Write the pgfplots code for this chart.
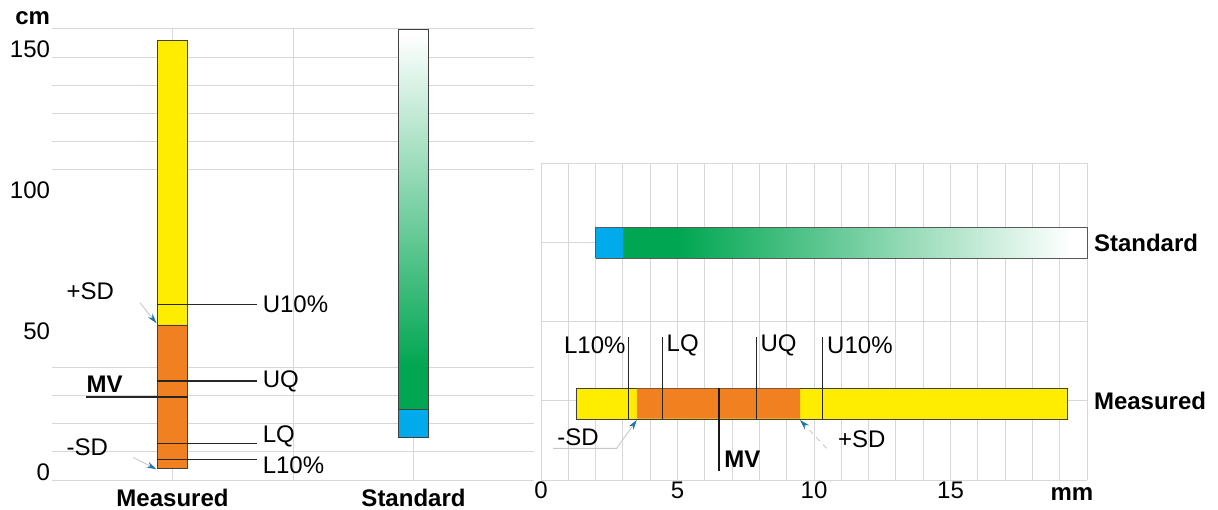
\documentclass[border=0pt]{standalone}
\usepackage{pgfplots}
\pgfplotsset{compat=1.18}
\usepackage{fontspec}
\setmainfont{Liberation Sans}
\usetikzlibrary{arrows.meta}
\definecolor{myyellow}{RGB}{255,237,0}
\definecolor{myorange}{RGB}{241,128,33}
\definecolor{myblue}{RGB}{0,170,235}
\definecolor{mygreen}{RGB}{0,166,81}
\definecolor{gridgray}{RGB}{215,215,215}
\definecolor{arrowblue}{RGB}{30,115,175}
\newcommand\fa{\fontsize{14.4}{17}\selectfont}
\begin{document}
\begin{tikzpicture}
\useasboundingbox (0,0) rectangle (730.8pt,305.4pt);
% ---------------- left panel (cm) ----------------
\begin{axis}[
  at={(31.2pt,17.4pt)}, anchor=south west, scale only axis,
  width=289.2pt, height=270.6pt,
  xmin=-1, xmax=3, ymin=0, ymax=160,
  axis line style={draw=none},
  xtick={0,1,2}, xticklabels={Measured,,Standard},
  xticklabel style={font=\fa\bfseries, inner sep=0pt, yshift=-5pt},
  ytick={0,10,20,30,40,110,120,130,140,150,160},
  yticklabels={0,,,,,,,,,150,},
  extra y ticks={50,100}, extra y tick labels={50,100},
  extra y tick style={grid=none},
  yticklabel style={font=\fa, inner sep=1pt, yshift=4.8pt},
  ymajorgrids, xmajorgrids,
  grid style={gridgray, line width=0.6pt},
  major tick length=0pt,
  clip=false,
]
% Measured bar
\addplot[fill=myyellow, draw=black!75, line width=0.5pt] coordinates {(-0.125,55) (0.125,55) (0.125,156) (-0.125,156) (-0.125,55)};
\addplot[fill=myorange, draw=black!75, line width=0.5pt] coordinates {(-0.125,4) (0.125,4) (0.125,55) (-0.125,55) (-0.125,4)};
% Standard bar
\addplot[draw=none, fill=mygreen] coordinates {(1.875,25) (2.125,25) (2.125,40) (1.875,40) (1.875,25)};
\addplot[draw=none, top color=white, bottom color=mygreen] coordinates {(1.875,40) (2.125,40) (2.125,158) (1.875,158) (1.875,40)};
\addplot[draw=none, fill=white] coordinates {(1.875,158) (2.125,158) (2.125,160) (1.875,160) (1.875,158)};
\addplot[fill=myblue, draw=black!75, line width=0.5pt] coordinates {(1.875,15) (2.125,15) (2.125,25) (1.875,25) (1.875,15)};
\addplot[draw=black!75, line width=0.5pt] coordinates {(1.875,25) (1.875,160) (2.125,160) (2.125,25)};
% percentile lines
\addplot[black!85, line width=0.7pt] coordinates {(-0.125,62.3) (0.705,62.3)};
\addplot[black!85, line width=0.7pt] coordinates {(-0.125,35.1) (0.705,35.1)};
\addplot[black!85, line width=0.7pt] coordinates {(-0.125,13) (0.705,13)};
\addplot[black!85, line width=0.7pt] coordinates {(-0.125,7.3) (0.705,7.3)};
\addplot[black!85, line width=0.9pt] coordinates {(-0.714,29.5) (0.125,29.5)};
% SD arrows
\addplot[gray!45, line width=0.5pt, -{Stealth[length=6pt,width=3.5pt,color=arrowblue]}] coordinates {(-0.27,62.9) (-0.133,55.6)};
\addplot[gray!45, line width=0.5pt, -{Stealth[length=6pt,width=3.5pt,color=arrowblue]}] coordinates {(-0.326,8.0) (-0.133,3.8)};
% labels
\node[font=\fa, anchor=west, inner sep=3pt] at (axis cs:0.705,62.3) {U10\%};
\node[font=\fa, anchor=west, inner sep=3pt] at (axis cs:0.705,35.1) {UQ};
\node[font=\fa, anchor=west, inner sep=3pt] at (axis cs:0.705,15.6) {LQ};
\node[font=\fa, anchor=west, inner sep=3pt] at (axis cs:0.705,5.3) {L10\%};
\node[font=\fa\bfseries] at (axis cs:-0.564,34) {MV};
\node[font=\fa] at (axis cs:-0.683,66.8) {+SD};
\node[font=\fa] at (axis cs:-0.708,11.5) {-SD};
\end{axis}
\node[font=\fa\bfseries, anchor=base west, inner sep=0pt] at (9pt,290.4pt) {cm};
% ---------------- right panel (mm) ----------------
\begin{axis}[
  at={(324.6pt,17.4pt)}, anchor=south west, scale only axis,
  width=327.6pt, height=190pt,
  xmin=0, xmax=20, ymin=-0.5, ymax=1.5,
  axis line style={draw=none},
  xtick={0,5,10,15}, minor xtick={1,2,...,20},
  xmajorgrids, xminorgrids,
  ytick={-0.5,0,0.5,1,1.5}, yticklabels={,Measured,,Standard,},
  yticklabel pos=right,
  ymajorgrids,
  grid style={gridgray, line width=0.6pt},
  minor grid style={gridgray, line width=0.6pt},
  major tick length=0pt, minor tick length=0pt,
  xticklabel style={font=\fa, inner sep=0pt, yshift=-1pt},
  yticklabel style={font=\fa\bfseries, inner sep=4pt},
  /pgf/number format/assume math mode=true,
  clip=false,
]
% Standard bar
\addplot[fill=mygreen, draw=none] coordinates {(3,0.9) (5,0.9) (5,1.094) (3,1.094) (3,0.9)};
\addplot[draw=none, left color=mygreen, right color=white] coordinates {(5,0.9) (19.4,0.9) (19.4,1.094) (5,1.094) (5,0.9)};
\addplot[draw=none, fill=white] coordinates {(19.4,0.9) (20,0.9) (20,1.094) (19.4,1.094) (19.4,0.9)};
\addplot[fill=myblue, draw=none] coordinates {(2,0.9) (3,0.9) (3,1.094) (2,1.094) (2,0.9)};
\addplot[draw=black!65, line width=0.5pt] coordinates {(2,0.9) (20,0.9) (20,1.094) (2,1.094) (2,0.9)};
% Measured bar
\addplot[fill=myyellow, draw=black!75, line width=0.5pt] coordinates {(1.28,-0.115) (19.29,-0.115) (19.29,0.079) (1.28,0.079) (1.28,-0.115)};
\addplot[fill=myorange, draw=none] coordinates {(3.51,-0.113) (9.49,-0.113) (9.49,0.077) (3.51,0.077) (3.51,-0.113)};
% percentile lines
\addplot[black!85, line width=0.6pt] coordinates {(3.20,-0.115) (3.20,0.405)};
\addplot[black!85, line width=0.6pt] coordinates {(4.44,-0.115) (4.44,0.405)};
\addplot[black!85, line width=0.6pt] coordinates {(7.88,-0.115) (7.88,0.405)};
\addplot[black!85, line width=0.6pt] coordinates {(10.32,-0.115) (10.32,0.405)};
\addplot[black!90, line width=0.9pt] coordinates {(6.52,0.079) (6.52,-0.44)};
% SD arrows
\addplot[gray!45, line width=0.5pt, -{Stealth[length=6pt,width=3.5pt,color=arrowblue]}] coordinates {(0.44,-0.30) (2.77,-0.30) (3.51,-0.121)};
\addplot[gray!45, line width=0.5pt, dashed, -{Stealth[length=6pt,width=3.5pt,color=arrowblue]}] coordinates {(10.46,-0.30) (9.49,-0.121)};
% labels
\node[font=\fa, anchor=east, inner sep=1.5pt] at (axis cs:3.20,0.353) {L10\%};
\node[font=\fa, anchor=west, inner sep=2.5pt] at (axis cs:4.44,0.353) {LQ};
\node[font=\fa, anchor=west, inner sep=2.5pt] at (axis cs:7.88,0.353) {UQ};
\node[font=\fa, anchor=west, inner sep=2.5pt] at (axis cs:10.32,0.353) {U10\%};
\node[font=\fa\bfseries, anchor=west, inner sep=3pt] at (axis cs:6.52,-0.367) {MV};
\node[font=\fa] at (axis cs:1.36,-0.232) {-SD};
\node[font=\fa] at (axis cs:11.75,-0.245) {+SD};
\node[font=\fa\bfseries, anchor=base] at (axis cs:19.45,-0.5) [yshift=-12.5pt] {mm};
\end{axis}
\end{tikzpicture}
\end{document}
